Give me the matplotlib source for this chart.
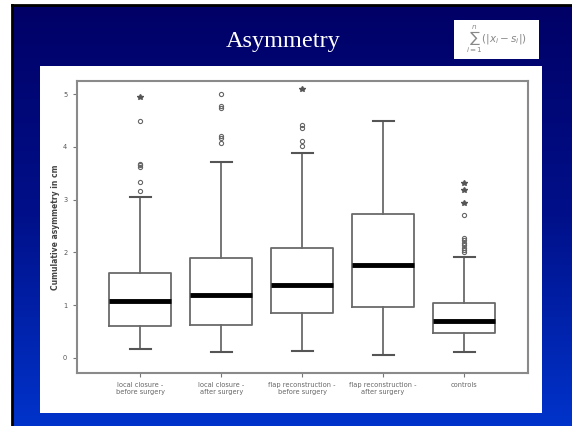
import numpy as np
import matplotlib
matplotlib.use("Agg")
import matplotlib.pyplot as plt
from matplotlib.colors import LinearSegmentedColormap

# box statistics (cumulative asymmetry in cm)
groups = ["local closure -\nbefore surgery", "local closure -\nafter surgery",
          "flap reconstruction -\nbefore surgery", "flap reconstruction -\nafter surgery",
          "controls"]
whislo = [0.17, 0.11, 0.13, 0.05, 0.10]
q1 = [0.61, 0.62, 0.85, 0.97, 0.47]
med = [1.08, 1.19, 1.38, 1.76, 0.70]
q3 = [1.60, 1.90, 2.08, 2.72, 1.04]
whishi = [3.05, 3.72, 3.89, 4.49, 1.92]
outliers = [
    [3.16, 3.34, 3.61, 3.65, 3.67, 4.49],
    [4.07, 4.16, 4.21, 4.73, 4.78, 5.00],
    [4.02, 4.12, 4.35, 4.42],
    [],
    [2.00, 2.04, 2.08, 2.13, 2.18, 2.23, 2.28, 2.71],
]
extremes = [[4.95], [], [5.09], [], [2.93, 3.18, 3.31]]
yticks = [0, 1, 2, 3, 4, 5]

fig = plt.figure(figsize=(5.72, 4.26), dpi=100)
fig.patch.set_facecolor("white")

# slide background with blue gradient (runs a bit past the right/bottom edge)
bg = fig.add_axes([12 / 572, -0.01, 0.99, 421 / 426 + 0.01])
cmap = LinearSegmentedColormap.from_list("slide", ["#000066", "#00108a", "#0034cc"])
bg.imshow(np.linspace(0, 1, 256).reshape(-1, 1), aspect="auto", cmap=cmap,
          extent=[0, 1, 0, 1], origin="upper")
bg.set_xticks([])
bg.set_yticks([])
for s in ["right", "bottom"]:
    bg.spines[s].set_visible(False)
for s in ["left", "top"]:
    bg.spines[s].set_color("black")
    bg.spines[s].set_linewidth(2)

fig.text(283 / 572, 1 - 41 / 426, "Asymmetry", color="white", fontsize=17.5,
         family="Liberation Serif", ha="center", va="center")

# formula picture
fx = fig.add_axes([454 / 572, 1 - 59 / 426, 85 / 572, 39 / 426])
fx.set_facecolor("white")
fx.set_xticks([])
fx.set_yticks([])
for s in fx.spines.values():
    s.set_visible(False)
fx.text(0.5, 0.5, r"$\sum_{i=1}^{n}(|x_i - s_i|)$", color="#888888",
        fontsize=7.5, ha="center", va="center", transform=fx.transAxes)

# white panel
panel = fig.add_axes([40 / 572, 13 / 426, 502 / 572, 347 / 426])
panel.set_facecolor("white")
panel.set_xticks([])
panel.set_yticks([])
for s in panel.spines.values():
    s.set_visible(False)

ax = fig.add_axes([77 / 572, 53 / 426, 451 / 572, 292 / 426])
ax.set_facecolor("white")
pos = np.arange(1, len(groups) + 1)
stats = []
for i in range(len(groups)):
    stats.append({"whislo": whislo[i], "q1": q1[i], "med": med[i], "q3": q3[i],
                  "whishi": whishi[i], "fliers": outliers[i]})
edge = "#6a6a6a"
ax.bxp(stats, positions=pos, widths=0.76, capwidths=0.26, showfliers=True,
       boxprops=dict(color=edge, linewidth=1.3),
       whiskerprops=dict(color=edge, linewidth=1.3),
       capprops=dict(color="#555555", linewidth=1.5),
       medianprops=dict(color="black", linewidth=3.5),
       flierprops=dict(marker="o", markersize=3, markerfacecolor="none",
                       markeredgecolor="#666666", markeredgewidth=0.8))
for i in range(len(groups)):
    if extremes[i]:
        ax.plot([pos[i]] * len(extremes[i]), extremes[i], ls="none", marker="*",
                markersize=4, color="#555555")

ax.set_xlim(0.22, 5.79)
ax.set_ylim(-0.29, 5.25)
ax.set_yticks(yticks)
ax.set_yticklabels([str(t) for t in yticks])
ax.set_xticks(pos)
ax.set_xticklabels(groups)
ax.tick_params(axis="both", colors="#777777", labelsize=4.8, length=3, width=0.8)
ax.tick_params(axis="x", labelcolor="#666666")
ax.tick_params(axis="y", pad=4, labelcolor="#555555")
for s in ax.spines.values():
    s.set_color("#8a8a8a")
    s.set_linewidth(1.5)
ax.set_ylabel("Cumulative asymmetry in cm", fontsize=5.5, fontweight="bold",
              color="#444444", labelpad=2)

fig.savefig("out.png", dpi=100)
